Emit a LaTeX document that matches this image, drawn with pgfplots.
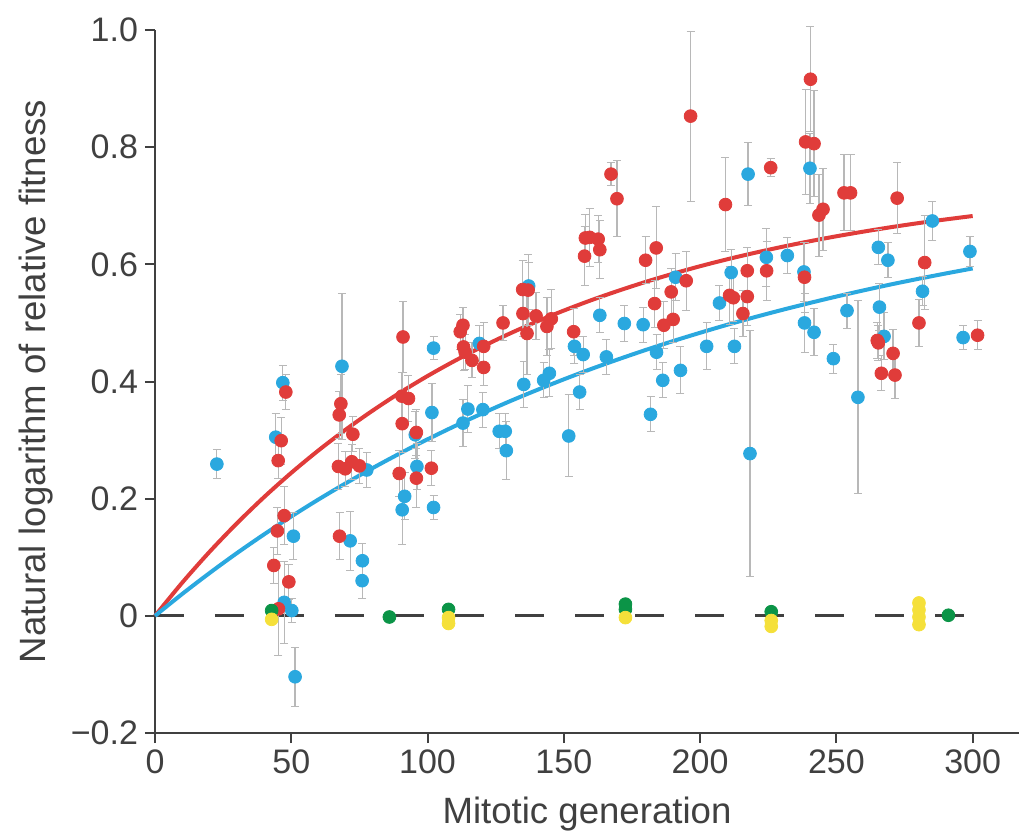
\documentclass[border=0pt]{standalone}
\usepackage{pgfplots}
\pgfplotsset{compat=1.18}
\usepackage{pgfplotstable}
\usepackage{fontspec}
\setmainfont{Liberation Sans}
\definecolor{myred}{HTML}{E03C3A}
\definecolor{myblue}{HTML}{2AA8DF}
\definecolor{mygreen}{HTML}{0B9447}
\definecolor{myyellow}{HTML}{F5E03A}
\definecolor{axisgray}{HTML}{404040}
\definecolor{errgray}{HTML}{B8B8B8}

\pgfplotstableread{
x y e
43.6 0.086 0.03
44.9 0.145 0.04
45.2 0.265 0.03
46.3 0.299 0.04
47.4 0.171 0.05
48.0 0.382 0.03
49.1 0.058 0.03
45.3 0.012 0.08
68.2 0.362 0.05
67.6 0.343 0.04
72.6 0.310 0.03
67.3 0.255 0.04
69.8 0.251 0.03
72.2 0.263 0.03
75.0 0.256 0.03
67.7 0.136 0.04
90.6 0.375 0.04
93.0 0.371 0.04
90.7 0.328 0.05
95.9 0.313 0.04
89.6 0.243 0.04
95.9 0.235 0.05
101.4 0.252 0.03
91.0 0.476 0.06
112.0 0.485 0.03
113.0 0.496 0.03
113.2 0.459 0.04
113.8 0.450 0.03
120.6 0.460 0.04
116.3 0.436 0.03
120.6 0.424 0.03
127.7 0.500 0.03
134.9 0.557 0.05
136.9 0.556 0.06
135.0 0.516 0.04
139.8 0.512 0.04
136.5 0.482 0.07
143.8 0.494 0.05
145.4 0.507 0.05
153.6 0.485 0.04
157.9 0.645 0.04
159.5 0.646 0.05
162.6 0.643 0.04
157.6 0.614 0.05
163.2 0.625 0.05
167.3 0.754 0.02
169.5 0.712 0.065
180.0 0.607 0.04
183.9 0.628 0.07
183.3 0.533 0.04
189.4 0.553 0.04
194.9 0.572 0.05
186.7 0.496 0.04
190.1 0.506 0.04
196.5 0.853 0.145
209.3 0.702 0.08
210.8 0.547 0.05
212.2 0.543 0.04
215.7 0.516 0.04
217.3 0.589 0.04
217.3 0.545 0.05
224.4 0.589 0.05
225.9 0.765 0.015
238.3 0.578 0.06
238.7 0.809 0.09
241.8 0.806 0.09
240.5 0.916 0.09
243.6 0.684 0.07
245.1 0.694 0.07
252.8 0.722 0.065
255.2 0.722 0.065
265.0 0.470 0.03
265.4 0.466 0.03
266.5 0.414 0.03
270.8 0.448 0.04
271.5 0.411 0.04
272.3 0.713 0.06
280.3 0.500 0.04
282.4 0.603 0.08
301.8 0.479 0.025
}\reddata

\pgfplotstableread{
x y e
22.7 0.259 0.025
44.3 0.305 0.04
46.9 0.398 0.03
50.8 0.136 0.04
47.4 0.023 0.07
50.2 0.009 0.02
51.4 -0.104 0.05
68.6 0.426 0.125
71.6 0.128 0.05
76.1 0.094 0.03
76.0 0.060 0.03
77.7 0.249 0.03
95.5 0.309 0.04
96.1 0.255 0.04
91.6 0.204 0.04
90.7 0.181 0.06
101.6 0.347 0.05
102.2 0.185 0.02
102.2 0.457 0.02
119.0 0.465 0.03
114.8 0.353 0.04
120.3 0.352 0.03
113.0 0.329 0.04
126.3 0.315 0.03
128.5 0.315 0.03
128.9 0.282 0.05
135.3 0.395 0.04
142.6 0.402 0.03
144.7 0.414 0.04
137.1 0.563 0.04
151.8 0.307 0.07
155.8 0.382 0.03
153.9 0.460 0.03
157.1 0.446 0.03
163.2 0.513 0.03
165.6 0.442 0.03
172.2 0.499 0.03
179.1 0.497 0.03
181.8 0.344 0.03
184.0 0.450 0.03
186.3 0.402 0.03
191.0 0.578 0.04
192.8 0.419 0.04
202.4 0.460 0.04
207.1 0.534 0.03
211.4 0.586 0.04
212.6 0.460 0.03
217.6 0.754 0.054
218.3 0.277 0.21
224.3 0.612 0.05
232.0 0.615 0.03
238.1 0.587 0.05
238.3 0.500 0.05
240.3 0.764 0.06
241.8 0.484 0.04
248.9 0.439 0.025
253.9 0.521 0.03
257.9 0.373 0.165
265.4 0.629 0.03
268.9 0.607 0.03
265.8 0.527 0.04
267.5 0.477 0.04
281.6 0.554 0.025
285.2 0.674 0.033
296.5 0.475 0.02
299.0 0.622 0.025
}\bluedata

\pgfplotstableread{
x y
42.8 0.009
86.0 -0.002
107.7 0.011
172.6 0.020
172.6 0.011
226.1 0.007
291.1 0.001
}\greendata

\pgfplotstableread{
x y
42.8 -0.006
107.7 -0.003
107.7 -0.013
172.6 -0.003
226.1 -0.008
226.1 -0.018
280.3 0.022
280.3 0.010
280.3 -0.002
280.3 -0.015
}\yellowdata

\pgfplotstableread{
x y
0 0
10 0.0567
20 0.1092
30 0.1577
40 0.2026
50 0.2441
60 0.2825
70 0.3180
80 0.3508
90 0.3813
100 0.4094
110 0.4353
120 0.4593
130 0.4815
140 0.5021
150 0.5211
160 0.5387
170 0.5549
180 0.5700
190 0.5839
200 0.5968
210 0.6087
220 0.6196
230 0.6298
240 0.6392
250 0.6479
260 0.6559
270 0.6634
280 0.6703
290 0.6766
300 0.6825
}\redfit

\pgfplotstableread{
x y
0 0
10 0.0374
20 0.0730
30 0.1069
40 0.1390
50 0.1696
60 0.1987
70 0.2263
80 0.2526
90 0.2776
100 0.3013
110 0.3239
120 0.3454
130 0.3659
140 0.3852
150 0.4037
160 0.4213
170 0.4379
180 0.4538
190 0.4689
200 0.4832
210 0.4969
220 0.5098
230 0.5221
240 0.5338
250 0.5450
260 0.5556
270 0.5657
280 0.5752
290 0.5843
300 0.5930
}\bluefit

\begin{document}
\begin{tikzpicture}
\begin{axis}[
  scale only axis, width=432pt, height=351.5pt,
  xmin=0, xmax=317, ymin=-0.2, ymax=1.0,
  axis lines*=left,
  axis line style={axisgray, line width=1.4pt},
  xtick={0,50,100,150,200,250,300},
  xticklabels={0,50,100,150,200,250,300},
  ytick={-0.2,0,0.2,0.4,0.6,0.8,1.0},
  yticklabels={−0.2,0,0.2,0.4,0.6,0.8,1.0},
  tick align=outside, major tick length=5pt,
  tick style={axisgray, line width=1pt},
  ticklabel style={font=\fontsize{17}{20}\selectfont, text=axisgray},
  xlabel={Mitotic generation},
  ylabel={Natural logarithm of relative fitness},
  xlabel style={at={(axis description cs:0.5,-0.1294)}, anchor=base, font=\fontsize{18.3}{22}\selectfont, text=axisgray},
  ylabel style={at={(axis description cs:-0.1273,0.5)}, anchor=base, rotate=0, font=\fontsize{18.3}{22}\selectfont, text=axisgray},
  clip=false,
  error bars/error bar style={errgray, line width=0.6pt},
  error bars/error mark options={errgray, rotate=90, mark size=2pt, line width=0.5pt},
]
\coordinate (bbsw) at (rel axis cs:-0.1794,-0.1479);
\coordinate (bbne) at (rel axis cs:1.0,1.0427);

\addplot[axisgray, line width=1.4pt, dash pattern=on 14.5pt off 15.5pt] coordinates {(0,0) (308,0)};
\addplot[myred, line width=2pt, smooth] table[x=x,y=y] {\redfit};
\addplot[myblue, line width=2pt, smooth] table[x=x,y=y] {\bluefit};

\addplot[only marks, mark=*, mark size=3.2pt, mark options={fill=myblue, draw=myblue},
  error bars/.cd, y dir=both, y explicit]
  table[x=x, y=y, y error=e] {\bluedata};
\addplot[only marks, mark=*, mark size=3.2pt, mark options={fill=myred, draw=myred},
  error bars/.cd, y dir=both, y explicit]
  table[x=x, y=y, y error=e] {\reddata};
\addplot[only marks, mark=*, mark size=3.2pt, mark options={fill=mygreen, draw=mygreen}]
  table[x=x, y=y] {\greendata};
\addplot[only marks, mark=*, mark size=3.2pt, mark options={fill=myyellow, draw=myyellow}]
  table[x=x, y=y] {\yellowdata};
\end{axis}
\pgfresetboundingbox
\path[use as bounding box] (bbsw) rectangle (bbne);
\end{tikzpicture}
\end{document}
